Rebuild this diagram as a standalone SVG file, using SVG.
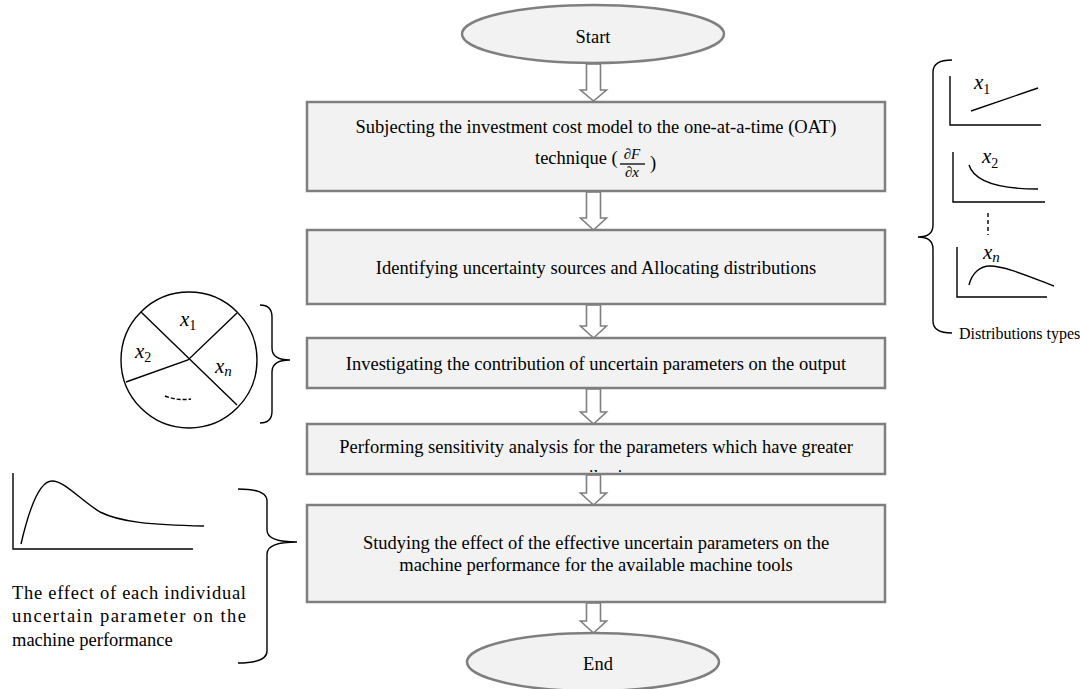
<svg xmlns="http://www.w3.org/2000/svg" width="1080" height="689" viewBox="0 0 1080 689">
<style>
.box{fill:#f2f2f2;stroke:#7f7f7f;stroke-width:2.5}
.t{font-family:"Liberation Serif","Times New Roman",serif;font-size:18.5px;fill:#000}
.c{text-anchor:middle}
.arr{fill:#fff;stroke:#7f7f7f;stroke-width:1.6;stroke-linejoin:miter}
.ln{fill:none;stroke:#000;stroke-width:1.4}
.m{font-family:"Liberation Serif","Times New Roman",serif;font-style:italic;font-size:21px;fill:#000}
.sub{font-size:14px;font-style:normal}
.subi{font-size:15px;font-style:italic}
.fr{font-family:"Liberation Serif","Times New Roman",serif;font-style:italic;font-size:15px;fill:#000;text-anchor:middle}
</style>
<defs>
<clipPath id="clip4"><rect x="309" y="425" width="575" height="47"/></clipPath>
</defs>
<rect width="1080" height="689" fill="#fff"/>

<g id="connectors">
<path class="arr" d="M586.5,64 V90 H580.5 L593.5,101 L606.5,90 H600.5 V64 Z"/>
<path class="arr" d="M586.5,192 V218 H580.5 L593.5,230 L606.5,218 H600.5 V192 Z"/>
<path class="arr" d="M586.5,305 V326 H580.5 L593.5,338 L606.5,326 H600.5 V305 Z"/>
<path class="arr" d="M586.5,389 V412 H580.5 L593.5,424 L606.5,412 H600.5 V389 Z"/>
<path class="arr" d="M586.5,475 V493 H580.5 L593.5,505 L606.5,493 H600.5 V475 Z"/>
<path class="arr" d="M586.5,603 V621 H580.5 L593.5,633 L606.5,621 H600.5 V603 Z"/>
</g>

<g id="start">
<ellipse class="box" cx="593" cy="34" rx="131" ry="29"/>
<text class="t c" x="593" y="43">Start</text>
</g>

<g id="step1">
<rect class="box" x="307" y="102" width="578" height="89"/>
<text class="t c" x="596" y="133">Subjecting the investment cost model to the one-at-a-time (OAT)</text>
<text class="t" x="535" y="164">technique (</text>
<text class="fr" x="632" y="159">∂F</text>
<line x1="620" y1="164" x2="645" y2="164" stroke="#000" stroke-width="1.3"/>
<text class="fr" x="632" y="177">∂x</text>
<text class="t" x="650" y="169">)</text>
</g>

<g id="step2">
<rect class="box" x="307" y="230" width="578" height="74"/>
<text class="t c" x="596" y="274">Identifying uncertainty sources and Allocating distributions</text>
</g>

<g id="step3">
<rect class="box" x="307" y="338" width="578" height="50"/>
<text class="t c" x="596" y="370">Investigating the contribution of uncertain parameters on the output</text>
</g>

<g id="step4">
<rect class="box" x="307" y="424" width="578" height="50"/>
<g clip-path="url(#clip4)">
<text class="t c" x="596" y="453">Performing sensitivity analysis for the parameters which have greater</text>
<text class="t c" x="596" y="483">contribution</text>
</g>
</g>

<g id="step5">
<rect class="box" x="307" y="505" width="578" height="97"/>
<text class="t c" x="596" y="549">Studying the effect of the effective uncertain parameters on the</text>
<text class="t c" x="596" y="571">machine performance for the available machine tools</text>
</g>

<g id="end">
<ellipse class="box" cx="593" cy="662" rx="126" ry="29"/>
<text class="t c" x="598" y="670">End</text>
</g>

<g id="distributions">
<path class="ln" d="M952,60 Q933,60 933,72 V225 Q933,237 918,237 Q933,237 933,249 V321 Q933,333 952,333"/>
<path class="ln" d="M950,76 V125 H1041"/>
<path class="ln" d="M971,111 L1038,88"/>
<text class="m" x="974" y="89">x<tspan class="sub" dy="5">1</tspan></text>
<path class="ln" d="M953,152 V202 H1045"/>
<path class="ln" d="M969,165 C974,181 998,189 1038,189"/>
<text class="m" x="982" y="163">x<tspan class="sub" dy="5">2</tspan></text>
<line x1="988" y1="213" x2="988" y2="235" stroke="#000" stroke-width="1.4" stroke-dasharray="4,3"/>
<path class="ln" d="M957,247 V297 H1047"/>
<path class="ln" d="M969,285 C972,273 980,266 990,266 C1005,266 1030,277 1054,286"/>
<text class="m" x="983" y="259">x<tspan class="subi" dy="3">n</tspan></text>
<text class="t" x="959" y="339" style="font-size:16px">Distributions types</text>
</g>

<g id="contribution">
<circle cx="189" cy="360" r="68" fill="#fff" stroke="#000" stroke-width="1.4"/>
<path class="ln" d="M141,312 L237,405 M237,313 L188,360 L126,382"/>
<text class="m" x="180" y="326">x<tspan class="sub" dy="4">1</tspan></text>
<text class="m" x="135" y="358">x<tspan class="sub" dy="4">2</tspan></text>
<text class="m" x="215" y="373">x<tspan class="subi" dy="3">n</tspan></text>
<path class="ln" d="M165,396 Q178,401 191,399" stroke-dasharray="4,2"/>
<path class="ln" d="M260,305 Q272,305 272,317 V348 Q272,360 290,360 Q272,360 272,372 V411 Q272,423 260,423"/>
</g>

<g id="effect">
<path class="ln" d="M13,473 V549 H193"/>
<path class="ln" d="M21,544 C30,505 40,481 52,481 C65,481 80,500 100,512 C120,522 150,525 204,526"/>
<text class="t" x="12" y="599" textLength="234" lengthAdjust="spacing">The effect of each individual</text>
<text class="t" x="12" y="622" textLength="234" lengthAdjust="spacing">uncertain parameter on the</text>
<text class="t" x="12" y="646">machine performance</text>
<path class="ln" d="M238,489 Q267,489 267,501 V530 Q267,542 297,542 Q267,542 267,554 V651 Q267,663 238,663"/>
</g>
</svg>
